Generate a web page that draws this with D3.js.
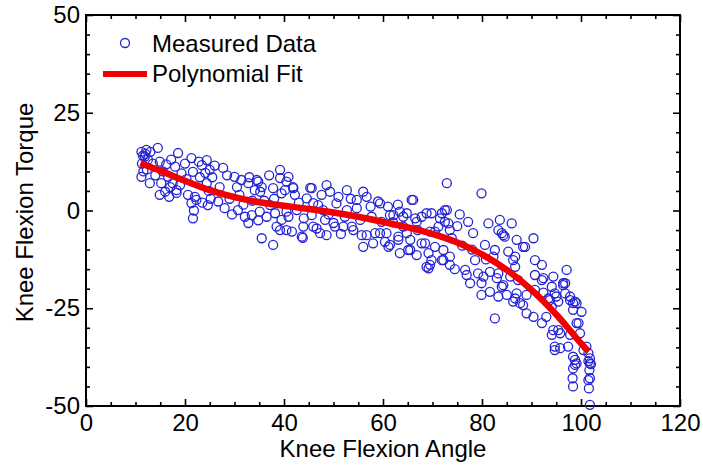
<!DOCTYPE html>
<html>
<head>
<meta charset="utf-8">
<script src="https://cdn.jsdelivr.net/npm/d3@7"></script>
<style>
    body { margin: 0; background: #fff; }
    svg { font-family: "Liberation Sans", Arial, sans-serif; }
</style>
</head>
<body>
<svg id="chart"></svg>
<script>
// measured points, [angle, torque]
const measuredLow = [
    [11.2,15],[11.5,14],[11.9,13.8],[12.2,15.5],[11.3,12],[12.5,13],[11.2,8.6],[12.9,7],[12.3,10.5],[13.5,12],
    [14.5,16],[14.9,12.5],[15.2,7],[14.9,4],[16,4.8],[16.6,8.6],[15.5,10],[16.2,11.8],[17.2,13],[18.3,5.2],
    [18.6,14.7],[18,11.2],[18.3,4.5],[17.5,7],[19.3,9.5],[20,12],[20.3,8],[21.3,13.4],[21.6,9.9],[21.3,1.9],
    [22.3,2.7],[21.6,-2],[21.8,0],[23.4,11.6],[24.1,9.6],[25,10.4],[24.4,7],[24.6,1.4],[22.8,12.5],[24.4,12.9],
    [25.5,8.5],[24.8,5],[27.7,10.9],[26.7,2.3],[28,0.6],[27,6],[30,8.6],[31.4,7.8],[32.8,7],[34.1,5.2],
    [30.7,0.1],[32.1,-1.6],[33.5,-1.2],[35.1,-0.3],[32.8,-3.2],[29,3],[31,4],[33,8.5],[33.6,2.5],[34.5,7.8],
    [29.5,-1],[22,3.5],[23.5,2],[25.2,3],[12,14.5],[13,15],[11.6,10],[14,9],[16.8,3.5],[17,6],
    [19,6.5],[20.6,4],[23,8.5],[26,11.5],[28.5,9],[30.5,6],[31.8,1.5],[34.8,-2.5],[34.8,7.4],[35.2,4.8],
    [35.5,6],[39.2,10.4],[37.8,5.7],[39.5,4.4],[37.2,1.4],[36.5,-1.6],[38.2,-0.7],[39.5,-2.4],[39.2,-5],[37.8,-8.8],
    [35.5,-7.1],[39.2,8.3],[38.5,-4.1],[36,2.5],[38,3],[37,9]
];
const measuredMid = [
    [40.9,8.6],[40.2,5.2],[41.9,5.7],[42.2,4],[40.9,-1.6],[41.6,-5.4],[40.5,-0.3],[44.6,3.1],[45.6,5.7],[48.6,6.5],
    [49.3,4.8],[47.6,4],[46.9,1.4],[45.6,-1.2],[43.9,-4.1],[43.6,-6.7],[46.6,-4.6],[48.3,-2.4],[48.6,-6.3],[50.3,-4.1],
    [52.7,5.2],[52.3,-1.6],[52,-4.1],[53.7,-4.1],[54.7,0.6],[56,4.8],[56.7,3.5],[57.7,-1.6],[55.7,-6.3],[56,-9.3],
    [58,-8.4],[59,2.3],[59.7,-2.9],[58.4,-5.8],[41.8,6],[45.3,5.8],[43.8,-7],[40.5,7.4],[40.5,-5],[45.9,-4.1],
    [47.3,-5.8],[50,-3.2],[54,-5],[55.4,-2.4],[56.7,-6.3],[50.6,1.8],[45.9,1.9],[42.6,0.1],[47.9,0.1],[52.7,0.1],
    [54.7,2.7],[51,3.5],[53.5,3],[57.5,1],[43,2],[44,-2],[49,-1],[51.5,-6],[59.4,1.8],[65.8,2.7],
    [61.4,-1.2],[63.4,-0.3],[64.8,-0.7],[66.5,-2],[68.8,-0.7],[59.4,-5.8],[60.4,-8],[61.1,-9.3],[63.1,-6.7],[65.1,-10.1],
    [67.8,-8.4],[69.2,-10.9],[68.8,-14.4],[69.8,-12.7],[62.1,-1.2],[64.1,-1.6],[66.1,2.7],[60.7,-5.8],[61.4,-8.8],[63.4,-10.9],
    [65.5,-10.1],[66.8,-11.4],[68.5,-8.4],[69.5,-13.9],[69.2,-14.8],[69.5,-5.4],[69.8,-0.7],[67.8,-1.6],[66.8,-2.9],[64.1,-4.1],
    [64.8,-5.8],[65.5,-7.5],[63.1,-7.5],[62,-3],[67,-5],[61,1],[63,1.5]
];
const measuredHigh = [
    [72.9,7],[79.9,4.4],[72.5,0.1],[71.5,-2],[73.2,-3.3],[77.2,-2.9],[78.2,-5.8],[81.3,-3.3],[83.3,-5],[70.5,-9.3],
    [72.2,-12.7],[73.5,-13.9],[76.6,-15.2],[76.9,-16.5],[78.6,-12.7],[79.2,-16.1],[80.6,-8.8],[82.3,-11.8],[81.6,-15.7],[83,-17.3],
    [79.9,-18.6],[83.6,-2.4],[86,-3.3],[90.4,-7.1],[84.3,-6.3],[87,-7.5],[88.3,-9.3],[86.3,-12.7],[82.6,-10.1],[90.7,-12.7],
    [92.1,-13.9],[92.4,-17.3],[94.4,-16.9],[97.1,-15.2],[96.4,-19.1],[97.8,-22],[98.8,-23.3],[100.1,-25.9],[99.5,-28.8],[98.4,-23.7],
    [94.7,-21.2],[94.1,-24.6],[95.4,-30.6],[94.1,-31.8],[94.7,-35.7],[97.8,-31.8],[98.4,-37.4],[98.8,-39.5],[98.3,-42.9],[98.4,-45],
    [101.5,-36.5],[101.8,-39.1],[101.7,-40.8],[101.5,-43.4],[101.6,-45.5],[101.8,-49.7],[101.1,-34.8],[101.8,-37.8],[100.5,-35.7],[99.1,-39.1],
    [87.7,-23.7],[86.3,-23.3],[89,-26.3],[90.4,-27.2],[92.1,-28.8],[82.6,-27.6],[79.9,-21.6],[81.6,-20.8],[83.3,-22],[84.3,-19.1],
    [85.7,-16.9],[77.6,-18.6],[80.3,-16.9],[87,-21.2],[88.3,-24.2],[71.9,-12.7],[72.2,-10.1],[73.5,-11.8],[71.9,-0.7],[72.5,-2.9],
    [73.5,-5],[73.9,-7.1],[71.2,-4.1],[72.9,0.1],[70.5,-5.4],[92.4,-21],[93.7,-22.9],[95,-22],[93,-27.2],[94.4,-30.6],
    [95.8,-31.4],[94.7,-34.8],[95.8,-35.2],[97.4,-34.8],[96.8,-18.6],[97.8,-22.9],[98.4,-25.4],[99.1,-28.8],[99.8,-31.4],[98.8,-38.2],
    [98.4,-40.4],[101.8,-42.9],[101.5,-38.5],[102,-39.3],[84,-5.8],[84.6,-6.7],[88.7,-9.3],[85.3,-10.5],[86.7,-11.8],[90.7,-16.5],
    [92.1,-17.8],[86.7,-14.4],[83.3,-16.1],[84,-19.5],[87.3,-17.8],[85,-21.6],[86.7,-22.5],[89,-21.6],[90.7,-20.3],[94.1,-19.5],
    [96.4,-18.6],[96.8,-21.2],[99.1,-23.7],[93.4,-22.5],[95.4,-23.3],[75,-4],[76,-9],[78,-10],[74.5,-15],[80.8,-12.5],
    [75.5,-1]
];

// polynomial fit, sampled off the red curve
const fitAngle  = [11, 15, 20, 25, 30, 35, 40, 45, 50, 55, 60, 65, 70, 75, 80, 85, 90, 95, 98, 100, 101.5];
const fitTorque = [12.1, 10.2, 7.6, 5.2, 3.4, 2.1, 1.2, 0.4, -0.5, -1.6, -2.9, -4.3, -6.0, -8.2, -11.2, -15.2, -20.3, -26.6, -31.0, -34.0, -36.0];

const xTicks = [0, 20, 40, 60, 80, 100, 120];
const yTicks = [-50, -25, 0, 25, 50];

class FitScatter {
    constructor(_config, _points, _fit) {
        this.config = {
            parentElement: _config.parentElement,
            containerWidth: _config.containerWidth || 703,
            containerHeight: _config.containerHeight || 465,
            margin: _config.margin || { top: 15, right: 23, bottom: 59, left: 86 }
        }
        this.points = _points;
        this.fit = _fit;
        this.initVis();
    }

    initVis() {
        let vis = this;

        vis.width = vis.config.containerWidth - vis.config.margin.left - vis.config.margin.right;
        vis.height = vis.config.containerHeight - vis.config.margin.top - vis.config.margin.bottom;

        vis.xScale = d3.scaleLinear().domain([0, 120]).range([0, vis.width]);
        vis.yScale = d3.scaleLinear().domain([-50, 50]).range([vis.height, 0]);

        vis.svg = d3.select(vis.config.parentElement)
            .attr('width', vis.config.containerWidth)
            .attr('height', vis.config.containerHeight);

        vis.chart = vis.svg.append('g')
            .attr('transform', `translate(${vis.config.margin.left},${vis.config.margin.top})`);

        // minor ticks every 5 units, major ones with labels
        const xMinor = d3.range(0, 121, 5).filter(v => v % 20 !== 0);
        const yMinor = d3.range(-50, 51, 5).filter(v => v % 25 !== 0);
        const plain = d => String(d);   // keep the short hyphen minus

        const addAxis = (axis, cls, shift) => {
            const g = vis.chart.append('g').attr('class', 'axis ' + cls)
                .attr('transform', shift).call(axis);
            g.select('.domain').remove();
            g.selectAll('line').attr('stroke', '#000').attr('stroke-width', 1.6);
            g.selectAll('text').attr('fill', '#000').attr('font-size', 24);
            return g;
        };

        addAxis(d3.axisBottom(vis.xScale).tickValues(xTicks).tickFormat(plain).tickSize(-7).tickPadding(8),
            'x-axis', `translate(0,${vis.height})`);
        addAxis(d3.axisBottom(vis.xScale).tickValues(xMinor).tickSize(-4).tickFormat(''),
            'x-minor', `translate(0,${vis.height})`);
        addAxis(d3.axisTop(vis.xScale).tickValues(xTicks).tickSize(-7).tickFormat(''), 'x-top', '');
        addAxis(d3.axisTop(vis.xScale).tickValues(xMinor).tickSize(-4).tickFormat(''), 'x-top-minor', '');

        addAxis(d3.axisLeft(vis.yScale).tickValues(yTicks).tickFormat(plain).tickSize(-7).tickPadding(6), 'y-axis', '');
        addAxis(d3.axisLeft(vis.yScale).tickValues(yMinor).tickSize(-4).tickFormat(''), 'y-minor', '');
        addAxis(d3.axisRight(vis.yScale).tickValues(yTicks).tickSize(-7).tickFormat(''),
            'y-right', `translate(${vis.width},0)`);
        addAxis(d3.axisRight(vis.yScale).tickValues(yMinor).tickSize(-4).tickFormat(''),
            'y-right-minor', `translate(${vis.width},0)`);

        // plot frame
        vis.chart.append('rect')
            .attr('width', vis.width)
            .attr('height', vis.height)
            .attr('fill', 'none')
            .attr('stroke', '#000')
            .attr('stroke-width', 2);

        // axis titles
        vis.svg.append('text')
            .attr('x', vis.config.margin.left + vis.width / 2)
            .attr('y', 457)
            .attr('text-anchor', 'middle')
            .attr('font-size', 24)
            .text('Knee Flexion Angle');

        vis.svg.append('text')
            .attr('transform', `translate(33,${vis.config.margin.top + vis.height / 2 + 2}) rotate(-90)`)
            .attr('text-anchor', 'middle')
            .attr('font-size', 24)
            .text('Knee Flexion Torque');

        vis.renderVis();
    }

    renderVis() {
        let vis = this;

        vis.chart.selectAll('.pt')
            .data(vis.points)
            .join('circle')
            .attr('class', 'pt')
            .attr('cx', d => vis.xScale(d[0]))
            .attr('cy', d => vis.yScale(d[1]))
            .attr('r', 4.5)
            .attr('fill', 'none')
            .attr('stroke', '#2323d6')
            .attr('stroke-width', 1.3);

        const line = d3.line()
            .x(d => vis.xScale(d[0]))
            .y(d => vis.yScale(d[1]))
            .curve(d3.curveCatmullRom);

        vis.chart.append('path')
            .datum(vis.fit)
            .attr('d', line)
            .attr('fill', 'none')
            .attr('stroke', '#f00000')
            .attr('stroke-width', 6.5);

        // legend
        const legend = vis.svg.append('g').attr('class', 'legend');
        legend.append('circle')
            .attr('cx', 125).attr('cy', 43).attr('r', 4.5)
            .attr('fill', 'none').attr('stroke', '#2323d6').attr('stroke-width', 1.3);
        legend.append('text')
            .attr('x', 152).attr('y', 52)
            .attr('font-size', 24)
            .text('Measured Data');
        legend.append('line')
            .attr('x1', 103).attr('x2', 147).attr('y1', 74).attr('y2', 74)
            .attr('stroke', '#f00000').attr('stroke-width', 6);
        legend.append('text')
            .attr('x', 152).attr('y', 82)
            .attr('font-size', 24)
            .text('Polynomial Fit');
    }
}

const allPoints = measuredLow.concat(measuredMid, measuredHigh);
const fitPoints = fitAngle.map((a, i) => [a, fitTorque[i]]);

new FitScatter({ parentElement: '#chart' }, allPoints, fitPoints);
</script>
</body>
</html>
